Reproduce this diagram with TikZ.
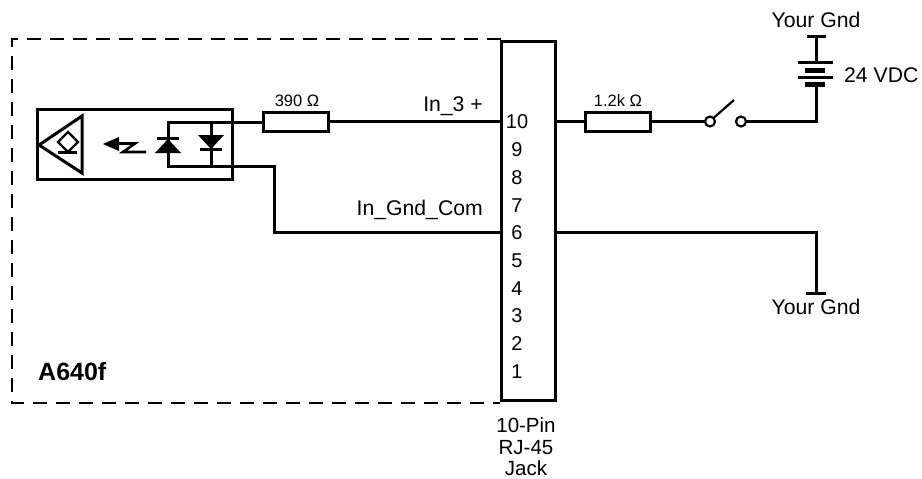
\documentclass[tikz,border=0pt]{standalone}
\usepackage{fontspec}
\setmainfont{Liberation Sans}
\tikzset{
  px/.style={x=1pt,y=-1pt},
  wire/.style={line width=3pt,line join=miter,black},
  thin wire/.style={line width=2.2pt,black},
  res/.style={draw,line width=3pt,minimum width=65pt,minimum height=19pt,inner sep=0pt,outer sep=0pt},
  lab/.style={font=\fontsize{21.2}{23}\selectfont,inner sep=0pt},
  small lab/.style={font=\fontsize{16.5}{18}\selectfont,inner sep=0pt},
  pin/.style={font=\fontsize{20}{22}\selectfont,inner sep=0pt,anchor=base},
  jack lab/.style={font=\fontsize{20.5}{22}\selectfont,inner sep=0pt,anchor=base},
  term/.style={circle,draw,line width=2.2pt,minimum size=10pt,inner sep=0pt,outer sep=0pt,fill=white}
}
\begin{document}
\begin{tikzpicture}[px]
\useasboundingbox (0,0) rectangle (922,479);
% dashed enclosure
\coordinate (dTR) at (501,39);
\coordinate (dTL) at (12,39);
\coordinate (dBL) at (12,403);
\coordinate (dBR) at (500,403);
\draw[line width=1.8pt,dash pattern=on 14pt off 9pt] (dTR) -- (dTL) -- (dBL) -- (dBR);
% jack
\node[draw,line width=3pt,minimum width=54pt,minimum height=359pt,inner sep=0pt,outer sep=0pt] (jack) at (528,220.5) {};
\foreach \n/\y in {10/128,9/156,8/184,7/212,6/239,5/267,4/295,3/322,2/350,1/378}
  \node[pin] (p\n) at (517,\y) {\n};
% sensor box
\node[draw,line width=3pt,minimum width=195pt,minimum height=70pt,inner sep=0pt,outer sep=0pt] (sensor) at (134.5,144) {};
% triangle
\coordinate (t1) at (39,145); \coordinate (t2) at (82,116); \coordinate (t3) at (82,173);
\draw[wire] (t1) -- (t2) -- (t3) -- cycle;
\coordinate (d1) at (68,132); \coordinate (d2) at (78,142); \coordinate (d3) at (68,152); \coordinate (d4) at (58,142);
\draw[thin wire] (d1) -- (d2) -- (d3) -- (d4) -- cycle;
\coordinate (u1) at (58,152.5); \coordinate (u2) at (77,152.5);
\draw[wire] (u1) -- (u2);
% light arrow
\coordinate (a1) at (103,144); \coordinate (a2) at (119,137); \coordinate (a3) at (119,151);
\fill (a1) -- (a2) -- (a3) -- cycle;
\coordinate (z1) at (118,143.5); \coordinate (z2) at (135,143.5); \coordinate (z3) at (123,152); \coordinate (z4) at (146,152);
\draw[wire,line width=2.6pt] (z1) -- (z2) -- (z3) -- (z4);
% diodes and loop
\node[res] (r1) at (295.5,121.5) {};
\node[res] (r2) at (617.5,121.5) {};
\node[small lab] (r1l) at (297,101) {390 Ω};
\node[small lab] (r2l) at (618,101) {1.2k Ω};
\coordinate (lt) at (168,122); \coordinate (lb) at (168,166);
\coordinate (m1) at (274,166); \coordinate (m2) at (274,232); \coordinate (m3) at (jack.west |- m2);
\draw[wire] (r1.west |- lt) -- (lt) -- (lb) -- (m1) -- (m2) -- (m3);
\coordinate (d2t) at (211,122); \coordinate (d2b) at (211,166);
\draw[wire] (d2t) -- (d2b);
\coordinate (bar1a) at (157,138); \coordinate (bar1b) at (179,138);
\draw[wire] (bar1a) -- (bar1b);
\coordinate (tr1a) at (168,139); \coordinate (tr1b) at (155,153); \coordinate (tr1c) at (181,153);
\fill (tr1a) -- (tr1b) -- (tr1c) -- cycle;
\coordinate (tr2a) at (198,135); \coordinate (tr2b) at (224,135); \coordinate (tr2c) at (211,149);
\fill (tr2a) -- (tr2b) -- (tr2c) -- cycle;
\coordinate (bar2a) at (200,149.5); \coordinate (bar2b) at (222,149.5);
\draw[wire] (bar2a) -- (bar2b);
% wires
\draw[wire] (r1.east) -- (jack.west |- r1.east);
\draw[wire] (jack.east |- r2.west) -- (r2.west);
\node[term] (s1) at (710,121.5) {};
\node[term] (s2) at (741,121.5) {};
\draw[wire] (r2.east) -- (s1.west);
\coordinate (lev) at (734,100);
\draw[thin wire] (s1.north east) -- (lev);
% battery
\coordinate (bw) at (816,121.5);
\coordinate (gt) at (816,36);
\coordinate (p1a) at (798,62); \coordinate (p1b) at (833,62);
\coordinate (p2a) at (805,70); \coordinate (p2b) at (825,70);
\coordinate (p3a) at (798,77); \coordinate (p3b) at (833,77);
\coordinate (p4a) at (805,84.5); \coordinate (p4b) at (825,84.5);
\draw[wire] (s2.east) -- (bw) -- (816,84);
\draw[wire] (gt) -- (816,62);
\coordinate (gta) at (807,36.5); \coordinate (gtb) at (826,36.5);
\draw[wire] (gta) -- (gtb);
\draw[wire] (p1a) -- (p1b);
\draw[wire,line width=5pt] (p2a) -- (p2b);
\draw[wire] (p3a) -- (p3b);
\draw[wire,line width=5pt] (p4a) -- (p4b);
% lower ground
\coordinate (g1) at (816,232); \coordinate (g2) at (816,293);
\coordinate (g2a) at (806,293); \coordinate (g2b) at (826,293);
\draw[wire] (jack.east |- g1) -- (g1) -- (g2);
\draw[wire] (g2a) -- (g2b);
% labels
\node[lab] (yg1) at (816,20) {Your Gnd};
\node[lab,anchor=west] (vdc) at (844,75) {24 VDC};
\node[lab] (yg2) at (816,307) {Your Gnd};
\node[lab,anchor=east] (in3) at (483,106) {In\_3 +};
\node[lab,anchor=east] (gnd) at (483,210) {In\_Gnd\_Com};
\node[font=\fontsize{25}{27}\selectfont\bfseries,inner sep=0pt,anchor=west] (model) at (38,372) {A640f};
\node[jack lab] (j1) at (526,432.5) {10-Pin};
\node[jack lab] (j2) at (526,454.5) {RJ-45};
\node[jack lab] (j3) at (526,475.5) {Jack};
\end{tikzpicture}
\end{document}
